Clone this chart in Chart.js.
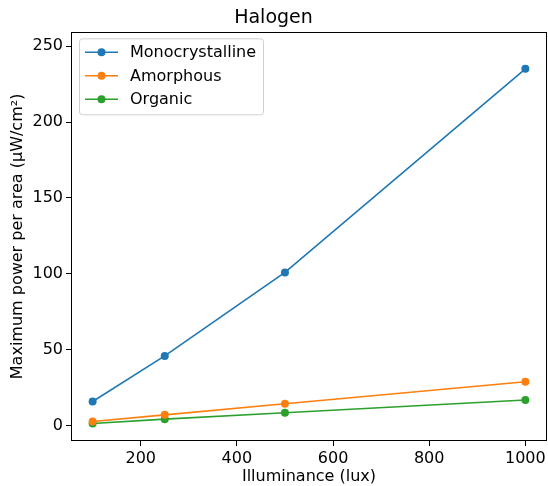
<!DOCTYPE html>
<html>
  <head>
    <meta charset="utf-8">
    <style>
body {
  margin: 0;
  background: #fff;
}

#wrap {
  width: 548px;
  height: 486px;
}
    </style>
  </head>
  <body>
    <div id="wrap"><canvas id="chart"></canvas></div>
    <script src="https://cdn.jsdelivr.net/npm/chart.js"></script>
    <script>

const illuminance = [100, 250, 500, 1000]
const monocrystalline = [16, 46, 101, 235]
const amorphous = [2.8, 7.2, 14.5, 29]
const organic = [1.5, 4.4, 8.6, 17]
const seriesNames = ['Monocrystalline', 'Amorphous', 'Organic']
const seriesColors = ['#1f77b4', '#ff7f0e', '#2ca02c']
const xTicks = [200, 400, 600, 800, 1000]
const yTicks = [0, 50, 100, 150, 200, 250]

const FONT = 'DejaVu Sans'
const LINE_W = 1.6

function toPoints(ys) {
  return ys.map((y, i) => ({x: illuminance[i], y}))
}

const datasets = [monocrystalline, amorphous, organic].map((ys, i) => ({
  label: seriesNames[i],
  data: toPoints(ys),
  borderColor: seriesColors[i],
  backgroundColor: seriesColors[i],
  borderWidth: LINE_W,
  pointRadius: 4,
  pointBorderWidth: 0,
  pointBackgroundColor: seriesColors[i],
  tension: 0
}))

// full box round the plot, like a matplotlib axes frame
const frame = {
  id: 'frame',
  afterDraw(chart) {
    const {ctx, chartArea: a} = chart
    ctx.save()
    ctx.strokeStyle = '#000'
    ctx.lineWidth = 1
    ctx.strokeRect(Math.round(a.left) + 0.5, Math.round(a.top) + 0.5,
      Math.round(a.right - a.left) - 1, Math.round(a.bottom - a.top) - 1)
    ctx.restore()
  }
}

// legend box in the upper left corner of the plot
const innerLegend = {
  id: 'innerLegend',
  afterDraw(chart) {
    const {ctx, chartArea: a} = chart
    const x0 = a.left + 8
    const y0 = a.top + 6.5
    const w = 184
    const h = 76
    ctx.save()
    ctx.beginPath()
    ctx.roundRect(x0 + 0.5, y0 + 0.5, w, h, 3)
    ctx.fillStyle = 'rgba(255,255,255,0.8)'
    ctx.fill()
    ctx.strokeStyle = '#d0d0d0'
    ctx.lineWidth = 1
    ctx.stroke()
    chart.data.datasets.forEach((ds, i) => {
      const y = y0 + 14 + i * 23.5
      ctx.strokeStyle = ds.borderColor
      ctx.lineWidth = LINE_W
      ctx.beginPath()
      ctx.moveTo(x0 + 6, y)
      ctx.lineTo(x0 + 39, y)
      ctx.stroke()
      ctx.fillStyle = ds.borderColor
      ctx.beginPath()
      ctx.arc(x0 + 22.5, y, 4, 0, Math.PI * 2)
      ctx.fill()
      ctx.fillStyle = '#000'
      ctx.font = '16px "' + FONT + '"'
      ctx.textBaseline = 'middle'
      ctx.textAlign = 'left'
      ctx.fillText(ds.label, x0 + 51, y + 1)
    })
    ctx.restore()
  }
}

const axisGrid = {
  drawOnChartArea: false,
  drawTicks: true,
  tickLength: 5,
  color: '#000',
  lineWidth: 1
}

new Chart(document.getElementById('chart'), {
  type: 'line',
  data: {datasets},
  plugins: [frame, innerLegend],
  options: {
    responsive: true,
    maintainAspectRatio: false,
    animation: false,
    layout: {autoPadding: false, padding: {top: 0, right: 1, bottom: 0, left: 0}},
    plugins: {
      legend: {display: false},
      tooltip: {enabled: false},
      title: {
        display: true,
        text: 'Halogen',
        color: '#000',
        font: {family: FONT, size: 19, weight: 'normal'},
        padding: {top: 7, bottom: 2}
      }
    },
    scales: {
      x: {
        type: 'linear',
        min: 55,
        max: 1045,
        grid: axisGrid,
        border: {display: false},
        afterBuildTicks(scale) {
          scale.ticks = xTicks.map(v => ({value: v}))
        },
        ticks: {
          color: '#000',
          padding: 3,
          font: {family: FONT, size: 16},
          callback: v => String(v)
        },
        title: {
          display: true,
          text: 'Illuminance (lux)',
          color: '#000',
          font: {family: FONT, size: 16},
          padding: {top: 0, bottom: 0}
        },
        afterFit(scale) {
          scale.height = 45
          scale.paddingLeft = 0
          scale.paddingRight = 0
        }
      },
      y: {
        type: 'linear',
        min: -10,
        max: 259.4,
        grid: axisGrid,
        border: {display: false},
        afterBuildTicks(scale) {
          scale.ticks = yTicks.map(v => ({value: v}))
        },
        ticks: {
          color: '#000',
          padding: 3,
          font: {family: FONT, size: 16},
          callback: v => String(v)
        },
        title: {
          display: true,
          text: 'Maximum power per area (µW/cm²)',
          color: '#000',
          font: {family: FONT, size: 16},
          padding: {top: 8, bottom: 0}
        },
        afterFit(scale) {
          scale.width = 71
          scale.paddingTop = 0
          scale.paddingBottom = 0
        }
      }
    }
  }
})
    </script>
  </body>
</html>
